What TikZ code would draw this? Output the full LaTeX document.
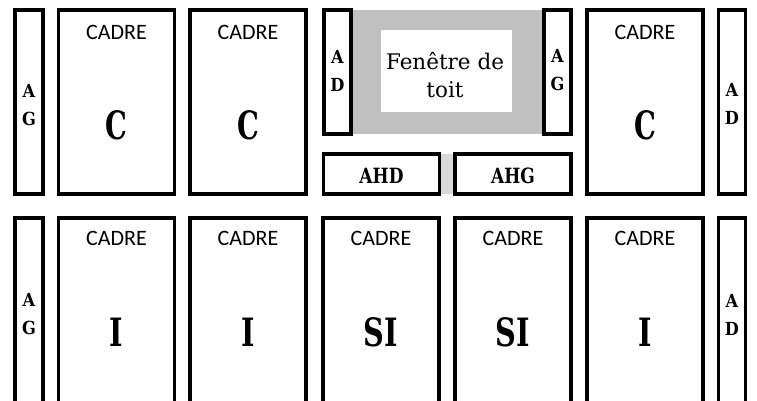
\documentclass[tikz,border=0pt]{standalone}
\usepackage{fontspec}
\setmainfont{DejaVu Serif}
\newfontfamily\cadrefont{Carlito}
\newfontfamily\grasfont{DejaVu Serif Condensed}
\definecolor{grisfonce}{HTML}{C0C0C0}
\definecolor{grisclair}{HTML}{D9D9D9}
\newcommand*\etroit[2]{\scalebox{#1}[1]{#2}}

\begin{document}
\begin{tikzpicture}[
        x=1pt, y=-1pt, line width=3.5pt, line join=miter,
        boite/.style={draw, rectangle, inner sep=0pt, outer sep=0pt, minimum width=#1},
        haut/.style={minimum height=184pt},
        bas/.style={minimum height=210pt},
        cadre/.style={font=\cadrefont\fontsize{22}{22}\selectfont, inner sep=0pt},
        lettre/.style={font=\grasfont\bfseries\fontsize{39}{39}\selectfont, inner sep=0pt},
        cote/.style={font=\grasfont\bfseries\fontsize{18}{28}\selectfont, align=center, inner sep=0pt},
        ailette/.style={font=\grasfont\bfseries\fontsize{21}{21}\selectfont, inner sep=0pt}
    ]
    \useasboundingbox (0,0) rectangle (757,401);
    \clip (0,0) rectangle (757,401);
    % fenetre de toit
    \fill[grisfonce] (351,10) rectangle (544,134);
    \fill[white] (381,30) rectangle (512,112);
    \fill[grisclair] (439,154) rectangle (455,194);
    \node[font=\fontsize{21.5}{28}\selectfont, align=center, inner sep=0pt] (fen) at (445,75) {Fenêtre de\\toit};
    \node[boite=27pt, minimum height=124pt] (adF) at (337.5,72) {};
    \node[boite=27pt, minimum height=124pt] (agF) at (557.5,72) {};
    \node[cote] at (adF.center) [yshift=1.5pt] {A\\D};
    \node[cote] at (agF.center) [yshift=1.5pt] {A\\G};
    \node[boite=116pt, minimum height=40pt] (ahd) at (381.5,174) {};
    \node[boite=116pt, minimum height=40pt] (ahg) at (513,174) {};
    \node[ailette] at (ahd.center) [yshift=-2pt] {\etroit{0.9}{AHD}};
    \node[ailette] at (ahg.center) [yshift=-2pt] {\etroit{0.9}{AHG}};
    % rangee du haut
    \node[boite=28pt, haut] (agH) at (29,102) {};
    \node[cote] at (29,105) {A\\G};
    \node[boite=27pt, haut] (adH) at (732,102) {};
    \node[cote] at (732,104) {A\\D};
    \foreach \x/\n in {116.5/1, 248/2, 645/5} {
        \node[boite=116pt, haut] (cH\n) at (\x,102) {};
        \node[cadre] (tH\n) at (\x,32) {CADRE};
        \node[lettre] (lH\n) at (\x,125) {\etroit{0.78}{C}};
    }
    % rangee du bas
    \node[boite=28pt, bas] (agB) at (29,323) {};
    \node[cote] at (29,314.5) {A\\G};
    \node[boite=27pt, bas] (adB) at (732,323) {};
    \node[cote] at (732,314.5) {A\\D};
    \foreach \x/\n/\t in {116.5/1/I, 248/2/I, 381/3/SI, 513/4/SI, 645/5/I} {
        \node[boite=116pt, bas] (cB\n) at (\x,323) {};
        \node[cadre] (tB\n) at (\x,238) {CADRE};
        \node[lettre] (lB\n) at (\x,332) {\etroit{0.82}{\t}};
    }
\end{tikzpicture}
\end{document}
